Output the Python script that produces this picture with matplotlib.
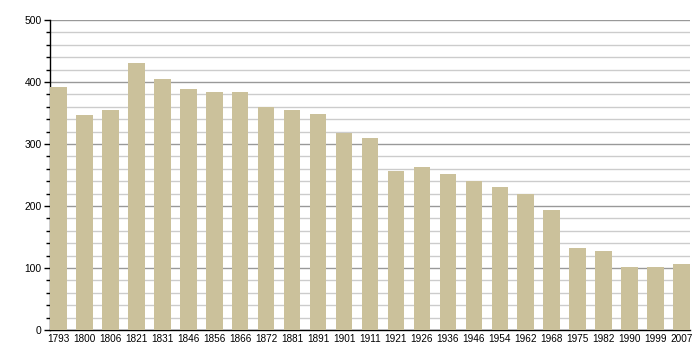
import numpy as np
import matplotlib
matplotlib.use("Agg")
import matplotlib.pyplot as plt
from matplotlib.ticker import MultipleLocator

# population by census year
years = ["1793", "1800", "1806", "1821", "1831", "1846", "1856", "1866", "1872",
         "1881", "1891", "1901", "1911", "1921", "1926", "1936", "1946", "1954",
         "1962", "1968", "1975", "1982", "1990", "1999", "2007"]
population = [392, 347, 355, 431, 405, 389, 384, 384, 359,
              355, 348, 318, 310, 256, 263, 252, 241, 231,
              219, 194, 132, 127, 102, 102, 106]

plt.rcParams['font.family'] = ['Liberation Sans', 'DejaVu Sans']

fig = plt.figure(figsize=(7, 3.6), dpi=100)
ax = fig.add_axes([50/700, 30/360, 640/700, 310/360])

x = np.arange(len(years))
w = 0.643
ax.bar(x, population, width=w, color='#cbc19b', zorder=3)

ax.set_xlim(-w/2, len(years) - 1 + w/2)
ax.set_ylim(0, 500)
ax.yaxis.set_major_locator(MultipleLocator(100))
ax.yaxis.set_minor_locator(MultipleLocator(20))
ax.grid(which='major', axis='y', color='#999999', lw=1, zorder=1)
ax.grid(which='minor', axis='y', color='#cccccc', lw=1, zorder=1)

ax.set_xticks(x)
ax.set_xticklabels(years)
ax.tick_params(axis='x', length=0, pad=3, labelsize=7.2)
ax.tick_params(axis='y', which='major', length=4, width=1, labelsize=7.4, pad=2)
ax.tick_params(axis='y', which='minor', length=3, width=1)

for s in ['top', 'right']:
    ax.spines[s].set_visible(False)
ax.spines['left'].set_linewidth(1)
ax.spines['bottom'].set_linewidth(1)

fig.savefig("out.png", dpi=100)
